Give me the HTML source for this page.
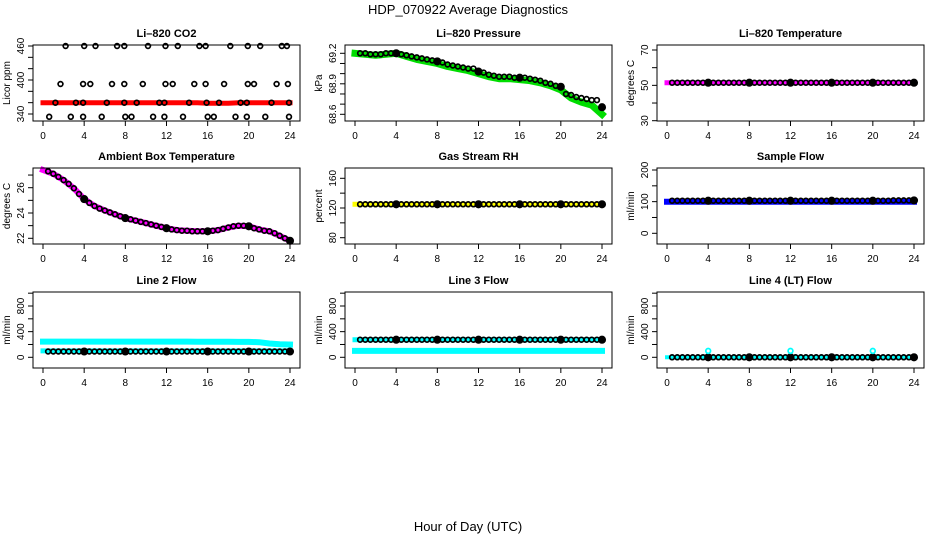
<!DOCTYPE html>
<html><head><meta charset="utf-8"><style>
html,body{margin:0;padding:0;background:#fff;}
svg{display:block;font-family:"Liberation Sans",Helvetica,Arial,sans-serif;}
</style></head><body>
<svg id="chart" width="936" height="540" viewBox="0 0 936 540" xmlns="http://www.w3.org/2000/svg">
<text x="468" y="14" text-anchor="middle" font-size="13">HDP_070922  Average Diagnostics</text>
<text x="468" y="531" text-anchor="middle" font-size="13">Hour of Day (UTC)</text>
</svg>
<script>
const xTicks = [0,4,8,12,16,20,24];
const tHalf = [0.5,1,1.5,2,2.5,3,3.5,4,4.5,5,5.5,6,6.5,7,7.5,8,8.5,9,9.5,10,10.5,11,11.5,12,12.5,13,13.5,14,14.5,15,15.5,16,16.5,17,17.5,18,18.5,19,19.5,20,20.5,21,21.5,22,22.5,23,23.5,24];
const tHour = [0,1,2,3,4,5,6,7,8,9,10,11,12,13,14,15,16,17,18,19,20,21,22,23,24];
const filledTimes = [4,8,12,16,20,24];

// Panel 1: CO2
const co2T = [2.2,4.0,5.1,7.2,7.9,10.2,11.9,13.1,15.2,15.8,18.2,19.9,21.1,23.2,23.7,
 1.7,3.9,4.6,6.7,7.9,9.7,11.9,12.6,14.7,15.8,17.6,19.9,20.5,22.7,23.8,
 1.2,3.2,3.9,6.2,7.9,9.1,11.3,11.8,14.2,15.9,17.1,19.2,19.8,22.2,23.9,
 0.6,2.7,3.9,5.7,8.0,8.6,10.7,11.8,13.6,16.0,16.6,18.7,19.8,21.6,23.9];
const co2V = [460,460,460,460,460,460,460,460,460,460,460,460,460,460,460,
 393,393,393,393,393,393,393,393,393,393,393,393,393,393,393,
 360,360,360,360,360,360,360,360,360,360,360,360,360,360,360,
 335,335,335,335,335,335,335,335,335,335,335,335,335,335,335];
const co2Band = [360,360,360,360,360,360,360,360,360,360,360,360,360,360,360,360,359,359,359,360,360,360,360,360,360];

// Panel 2: pressure
const pressV = [69.20,69.20,69.19,69.19,69.19,69.20,69.20,69.20,69.19,69.18,69.17,69.16,69.15,69.14,69.13,69.12,69.11,69.09,69.08,69.07,69.06,69.05,69.05,69.02,69.01,68.99,68.98,68.97,68.97,68.97,68.96,68.96,68.96,68.95,68.94,68.93,68.91,68.90,68.88,68.87,68.80,68.79,68.77,68.76,68.75,68.74,68.74,68.67];
const pressBand = [69.20,69.19,69.18,69.19,69.20,69.17,69.14,69.12,69.10,69.07,69.05,69.03,69.00,68.97,68.95,68.95,68.94,68.93,68.91,68.88,68.84,68.76,68.72,68.69,68.60];

// Panel 3: Li-820 temperature
const tempV = [51.5,51.5,51.5,51.5,51.5,51.5,51.5,51.5,51.5,51.5,51.5,51.5,51.5,51.5,51.5,51.5,51.5,51.5,51.5,51.5,51.5,51.5,51.5,51.5,51.5,51.5,51.5,51.5,51.5,51.5,51.5,51.5,51.5,51.5,51.5,51.5,51.5,51.5,51.5,51.5,51.5,51.5,51.5,51.5,51.5,51.5,51.5,51.5];
const tempBand = [51.5,51.5,51.5,51.5,51.5,51.5,51.5,51.5,51.5,51.5,51.5,51.5,51.5,51.5,51.5,51.5,51.5,51.5,51.5,51.5,51.5,51.5,51.5,51.5,51.5];

// Panel 4: ambient box temperature
const ambV = [27.3,27.1,26.85,26.6,26.3,25.95,25.5,25.1,24.8,24.55,24.35,24.2,24.05,23.9,23.75,23.6,23.5,23.4,23.3,23.2,23.1,23.0,22.9,22.8,22.7,22.65,22.6,22.6,22.55,22.55,22.55,22.55,22.6,22.65,22.75,22.85,22.95,23.0,23.0,22.95,22.8,22.7,22.6,22.55,22.4,22.2,22.0,21.8];
const ambBand = [27.4,27.1,26.6,25.95,25.1,24.55,24.2,23.9,23.6,23.4,23.2,23.0,22.8,22.65,22.6,22.55,22.55,22.65,22.85,23.0,22.95,22.7,22.55,22.2,21.8];

// Panel 5: RH
const rhV = [125,125,125,125,125,125,125,125,125,125,125,125,125,125,125,125,125,125,125,125,125,125,125,125,125,125,125,125,125,125,125,125,125,125,125,125,125,125,125,125,125,125,125,125,125,125,125,125];
const rhBand = [125,125,125,125,125,125,125,125,125,125,125,125,125,125,125,125,125,125,125,125,125,125,125,125,125];

// Panel 6: sample flow
const sampleV = [103,103,103,103,103,103,103,103,103,103,103,103,103,103,103,103,103,103,103,103,103,103,103,103,103,103,103,103,103,103,103,103,103,103,103,103,103,103,103,103,103,103,103,104,104,104,104,104];
const sampleBand = [100,100,100,100,100,100,100,100,100,100,100,100,100,100,100,100,100,100,100,100,100,100,100,100,100];

// Panel 7: line 2 flow
const l2V = [90,90,90,90,90,90,90,90,90,90,90,90,90,90,90,90,90,90,90,90,90,90,90,90,90,90,90,90,90,90,90,90,90,90,90,90,90,90,90,90,90,90,90,90,90,90,90,90];
const l2BandHigh = [245,245,245,245,245,245,245,245,245,245,245,245,245,245,245,243,242,242,242,240,240,235,215,205,200];
const l2BandLow = [100,100,100,100,100,100,100,100,100,100,100,100,100,100,100,100,100,100,100,100,100,100,100,100,100];

// Panel 8: line 3 flow
const l3V = [275,275,275,275,275,275,275,275,275,275,275,275,275,275,275,275,275,275,275,275,275,275,275,275,275,275,275,275,275,275,275,275,275,275,275,275,275,275,275,275,275,275,275,275,275,275,275,275];
const l3BandHigh = [275,275,275,275,275,275,275,275,275,275,275,275,275,275,275,275,275,275,275,275,275,275,275,275,275];
const l3BandLow = [100,100,100,100,100,100,100,100,100,100,100,100,100,100,100,100,100,100,100,100,100,100,100,100,100];

// Panel 9: line 4 flow
const l4V = [0,0,0,0,0,0,0,0,0,0,0,0,0,0,0,0,0,0,0,0,0,0,0,0,0,0,0,0,0,0,0,0,0,0,0,0,0,0,0,0,0,0,0,0,0,0,0,0];
const l4Band = [0,0,0,0,0,0,0,0,0,0,0,0,0,0,0,0,0,0,0,0,0,0,0,0,0];
const l4SpikeT = [4,12,20];
const l4SpikeV = [100,100,100];

const svg = document.getElementById('chart');
const NS = 'http://www.w3.org/2000/svg';
function mk(tag, attrs, parent){const e=document.createElementNS(NS,tag);for(const k in attrs)e.setAttribute(k,attrs[k]);(parent||svg).appendChild(e);return e;}

const colBox = [[33,300],[345,612],[657,924]];
const rowBox = [[45,121],[168,244],[292,368]];

const panels = [
 {r:0,c:0,name:'co2',title:'Li\u2013820 CO2',ylab:'Licor ppm',cal:[340,114,460,46],ticks:[340,360,380,400,420,440,460],labels:[340,400,460]},
 {r:0,c:1,name:'pressure',title:'Li\u2013820 Pressure',ylab:'kPa',cal:[68.6,114.3,69.2,53.3],ticks:[68.6,68.7,68.8,68.9,69.0,69.1,69.2],labels:['68.6','68.9','69.2']},
 {r:0,c:2,name:'li820-temperature',title:'Li\u2013820 Temperature',ylab:'degrees C',cal:[30,120.7,70,50],ticks:[30,40,50,60,70],labels:[30,50,70]},
 {r:1,c:0,name:'ambient-temperature',title:'Ambient Box Temperature',ylab:'degrees C',cal:[22,238.3,26,187.7],ticks:[22,23,24,25,26,27],labels:[22,24,26]},
 {r:1,c:1,name:'gas-rh',title:'Gas Stream RH',ylab:'percent',cal:[80,237.7,160,178.3],ticks:[80,100,120,140,160],labels:[80,120,160]},
 {r:1,c:2,name:'sample-flow',title:'Sample Flow',ylab:'ml/min',cal:[0,233.3,200,170],ticks:[0,50,100,150,200],labels:[0,100,200]},
 {r:2,c:0,name:'line2-flow',title:'Line 2 Flow',ylab:'ml/min',cal:[0,357.3,800,306],ticks:[0,200,400,600,800,1000],labels:[0,400,800]},
 {r:2,c:1,name:'line3-flow',title:'Line 3 Flow',ylab:'ml/min',cal:[0,357.3,800,306],ticks:[0,200,400,600,800,1000],labels:[0,400,800]},
 {r:2,c:2,name:'line4-flow',title:'Line 4 (LT) Flow',ylab:'ml/min',cal:[0,357.3,800,306],ticks:[0,200,400,600,800,1000],labels:[0,400,800]}
];

function band(g,p,times,vals,color,w,name){
  const pts=times.map((t,i)=>p.x(t).toFixed(1)+','+p.y(vals[i]).toFixed(1)).join(' ');
  const pl=mk('polyline',{points:pts,fill:'none',stroke:color,'stroke-width':w,'stroke-linejoin':'round','stroke-linecap':'square'},g);
  
  
}
function circles(g,p,times,vals,color,name,fillBig){
  times.forEach((t,i)=>{
    const big = fillBig && filledTimes.indexOf(t)>=0;
    const c=mk('circle',{cx:p.x(t).toFixed(1),cy:p.y(vals[i]).toFixed(1),r:big?3.2:2.4,fill:big?color:'none',stroke:color,'stroke-width':1.7},g);
    
    
  });
}

panels.forEach(p=>{
  const [bx0,bx1]=colBox[p.c], [by0,by1]=rowBox[p.r];
  const x0=43+312*p.c, x24=290+312*p.c;
  p.x = t => x0 + t*(x24-x0)/24;
  const [v1,y1,v2,y2]=p.cal;
  p.y = v => y1 + (v-v1)*(y2-y1)/(v2-v1);
  const g=mk('g',{});
  
  
  const tt=mk('text',{x:(bx0+bx1)/2,y:by0-8,'text-anchor':'middle','font-size':11,'font-weight':'bold'},g);
  tt.textContent=p.title;
  
  
  const yl=mk('text',{x:0,y:0,'text-anchor':'middle','font-size':10,transform:`translate(${bx0-23},${(by0+by1)/2}) rotate(-90)`},g);
  yl.textContent=p.ylab;
  
  
  xTicks.forEach(t=>{
    mk('line',{x1:p.x(t),x2:p.x(t),y1:by1,y2:by1+5,stroke:'#000','stroke-width':1},g);
    const l=mk('text',{x:p.x(t),y:by1+18,'text-anchor':'middle','font-size':10},g);
    l.textContent=t;
    
    
  });
  p.ticks.forEach(v=>{
    mk('line',{x1:bx0-5,x2:bx0,y1:p.y(v),y2:p.y(v),stroke:'#000','stroke-width':1},g);
  });
  p.labels.forEach(v=>{
    const l=mk('text',{x:0,y:0,'text-anchor':'middle','font-size':10,transform:`translate(${bx0-9},${p.y(+v)}) rotate(-90)`},g);
    l.textContent=v;
    
    
  });
  p.g=g;
});

const P = panels;
band(P[0].g,P[0],tHour,co2Band,'#ff0000',5,'co2-band');
circles(P[0].g,P[0],co2T,co2V,'#000','co2-point',false);
band(P[1].g,P[1],tHour,pressBand,'#00dd00',7,'pressure-band');
circles(P[1].g,P[1],tHalf,pressV,'#000','pressure-point',true);
band(P[2].g,P[2],tHour,tempBand,'#ff00ff',5,'temperature-band');
circles(P[2].g,P[2],tHalf,tempV,'#000','temperature-point',true);
band(P[3].g,P[3],tHour,ambBand,'#ff00ff',6,'ambient-band');
circles(P[3].g,P[3],tHalf,ambV,'#000','ambient-point',true);
band(P[4].g,P[4],tHour,rhBand,'#ffff00',5,'rh-band');
circles(P[4].g,P[4],tHalf,rhV,'#000','rh-point',true);
band(P[5].g,P[5],tHour,sampleBand,'#0000ff',6,'sample-band');
circles(P[5].g,P[5],tHalf,sampleV,'#000','sample-point',true);
band(P[6].g,P[6],tHour,l2BandHigh,'#00ffff',6,'line2-band-high');
band(P[6].g,P[6],tHour,l2BandLow,'#00ffff',5,'line2-band-low');
circles(P[6].g,P[6],tHalf,l2V,'#000','line2-point',true);
band(P[7].g,P[7],tHour,l3BandHigh,'#00ffff',5,'line3-band-high');
band(P[7].g,P[7],tHour,l3BandLow,'#00ffff',6,'line3-band-low');
circles(P[7].g,P[7],tHalf,l3V,'#000','line3-point',true);
band(P[8].g,P[8],tHour,l4Band,'#00ffff',4,'line4-band');
circles(P[8].g,P[8],tHalf,l4V,'#000','line4-point',true);
circles(P[8].g,P[8],l4SpikeT,l4SpikeV,'#00ffff','line4-spike',false);

panels.forEach(p=>{
  const [bx0,bx1]=colBox[p.c], [by0,by1]=rowBox[p.r];
  const r=mk('rect',{x:bx0,y:by0,width:bx1-bx0,height:by1-by0,fill:'none',stroke:'#000','stroke-width':1},p.g);
  
  
});
</script>
</body></html>
